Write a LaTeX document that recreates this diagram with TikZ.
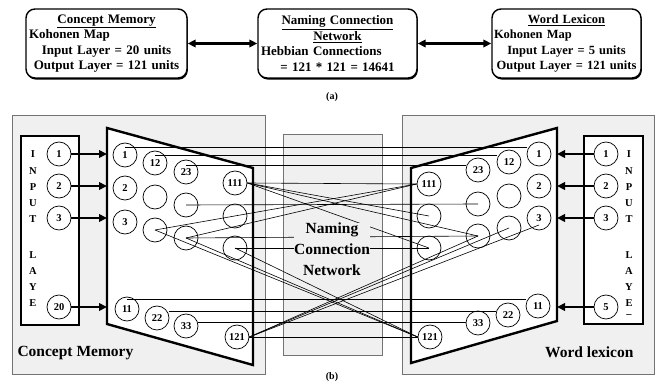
\documentclass[tikz,border=0pt]{standalone}
\usepackage{fontspec}
\setmainfont{Liberation Serif}
\usetikzlibrary{arrows.meta,shadows}

\begin{document}
\begin{tikzpicture}[x=1pt,y=-1pt,
	neuron/.style={circle, draw, line width=0.7pt, minimum size=24pt, inner sep=0pt, font=\fontsize{10.5}{12}\selectfont\bfseries},
	link/.style={line width=0.6pt},
	feed/.style={line width=2.2pt, -{Triangle[length=8pt,width=7.5pt]}},
	duplex/.style={line width=2.2pt, {Triangle[length=8pt,width=7.5pt]}-{Triangle[length=8pt,width=7.5pt]}},
	panel/.style={draw=black!55, fill=black!6, line width=0.6pt},
	mapshape/.style={draw, fill=white, line width=2.4pt, line join=miter},
	inbox/.style={draw, fill=white, line width=2.6pt},
	topbox/.style={draw, fill=white, rounded corners=9pt, line width=1.4pt, minimum height=69pt, align=center, inner sep=1pt, font=\fontsize{13}{15.5}\selectfont\bfseries, drop shadow={shadow xshift=0.8pt, shadow yshift=-1.6pt, fill=black, opacity=1}},
	caption/.style={font=\fontsize{15.5}{21}\selectfont\bfseries},
	letter/.style={font=\fontsize{10.5}{12}\selectfont\bfseries, inner sep=0pt}]

	\useasboundingbox (0,0) rectangle (659,382);

	% (a) block view
	\node[topbox, minimum width=161pt, text width=155pt] (cmbox) at (106.5,43.5)
		{\underline{Concept Memory}\\ \makebox[\hsize][l]{Kohonen Map}\\ Input Layer = 20 units\\ Output Layer = 121 units};
	\node[topbox, minimum width=159pt, text width=153pt] (ncbox) at (337.5,43.5)
		{\underline{Naming Connection}\\ \underline{Network}\\ \makebox[\hsize][l]{Hebbian Connections}\\ = 121 * 121 = 14641};
	\node[topbox, minimum width=149pt, text width=145pt, font=\fontsize{12.5}{15.5}\selectfont\bfseries] (wlbox) at (566.5,43.5)
		{\underline{Word Lexicon}\\ \makebox[\hsize][l]{Kohonen Map}\\ Input Layer = 5 units\\ \makebox[\hsize][c]{Output Layer = 121 units}};

	\draw[duplex] (cmbox.east) -- (ncbox.west);
	\draw[duplex] (ncbox.east) -- (wlbox.west);

	\node[font=\fontsize{10}{12}\selectfont\bfseries] (capa) at (332,97) {(a)};

	% (b) map view
	\draw[panel] (12,115) rectangle (265,374);
	\draw[panel] (402,115) rectangle (654,374);
	\draw[panel] (283,134) rectangle (382,355);

	\coordinate (cmA) at (107,128);
	\coordinate (cmB) at (253,168);
	\coordinate (cmC) at (253,365);
	\coordinate (cmD) at (107,324);
	\coordinate (wlA) at (557,128);
	\coordinate (wlB) at (411,168);
	\coordinate (wlC) at (411,363);
	\coordinate (wlD) at (557,321);

	\draw[mapshape] (cmA) -- (cmB) -- (cmC) -- (cmD) -- cycle;
	\draw[mapshape] (wlA) -- (wlB) -- (wlC) -- (wlD) -- cycle;

	\draw[inbox] (21,136) rectangle (79,325);
	\draw[inbox] (584,136) rectangle (643,324);

	\foreach \ch/\y in {I/154,N/171,P/187,U/203,T/219,L/255,A/271,Y/287,E/303}
		\node[letter] (cl\y) at (33,\y) {\ch};
	\foreach \ch/\y in {I/154,N/171,P/187,U/203,T/219,L/255,A/271,Y/287,E/303,--/316}
		\node[letter] (wl\y) at (629,\y) {\ch};

	% input units
	\node[neuron] (cin1) at (59,154) {1};
	\node[neuron] (cin2) at (59,186) {2};
	\node[neuron] (cin3) at (59,218) {3};
	\node[neuron] (cin20) at (59,307) {20};
	\node[neuron] (win1) at (606,154) {1};
	\node[neuron] (win2) at (606,186) {2};
	\node[neuron] (win3) at (606,218) {3};
	\node[neuron] (win5) at (606,307) {5};

	% output units, concept side
	\node[neuron] (c1) at (125,155) {1};
	\node[neuron] (c12) at (155,163) {12};
	\node[neuron] (c23) at (186,172) {23};
	\node[neuron] (c111) at (235,183) {111};
	\node[neuron] (c2) at (125,188) {2};
	\node[neuron] (ca) at (155,197) {};
	\node[neuron] (cb) at (186,205) {};
	\node[neuron] (cc) at (235,216) {};
	\node[neuron] (c3) at (125,222) {3};
	\node[neuron] (cd) at (155,230) {};
	\node[neuron] (ce) at (186,238) {};
	\node[neuron] (cf) at (235,248) {};
	\node[neuron] (c11) at (127,309) {11};
	\node[neuron] (c22) at (157,318) {22};
	\node[neuron] (c33) at (186,326) {33};
	\node[neuron] (c121) at (237,337) {121};

	% output units, word side
	\node[neuron] (w1) at (539,154) {1};
	\node[neuron] (w12) at (509,162) {12};
	\node[neuron] (w23) at (478,170) {23};
	\node[neuron] (w111) at (429,184) {111};
	\node[neuron] (w2) at (539,186) {2};
	\node[neuron] (wa) at (509,196) {};
	\node[neuron] (wb) at (478,204) {};
	\node[neuron] (wc) at (429,216) {};
	\node[neuron] (w3) at (539,218) {3};
	\node[neuron] (wd) at (509,228) {};
	\node[neuron] (we) at (478,236) {};
	\node[neuron] (wf) at (429,248) {};
	\node[neuron] (w11) at (538,306) {11};
	\node[neuron] (w22) at (508,315) {22};
	\node[neuron] (w33) at (478,323) {33};
	\node[neuron] (w121) at (430,337) {121};

	% hebbian links
	\draw[link] ([yshift=8pt]c1.center) -- ([yshift=8pt]c1.center -| w1.west);
	\draw[link] ([yshift=8pt]c12.center) -- ([yshift=8pt]c12.center -| w12.west);
	\draw[link] ([yshift=7pt]c23.center) -- ([yshift=7pt]c23.center -| w23.west);
	\draw[link] (c111.east) -- (w111.west);
	\draw[link] (cb.center) -- (wb.center);
	\draw[link] (ce.center) -- (we.center);
	\draw[link] (cf.center) -- (wf.center);
	\draw[link] ([yshift=10pt]c11.center) -- ([yshift=10pt]c11.center -| w11.west);
	\draw[link] ([yshift=7pt]c22.east) -- ([yshift=7pt]c22.east -| w22.west);
	\draw[link] ([yshift=4pt]c33.east) -- ([yshift=4pt]c33.east -| w33.west);
	\draw[link] (c121.east) -- (w121.west);

	\draw[link] (c111.east) -- (wc.center);
	\draw[link] (c111.east) -- (we.center);
	\draw[link] (c111.east) -- (wf.center);
	\draw[link] (cd.center) -- (w111.west);
	\draw[link] (ce.center) -- (w111.west);

	\draw[link] (cd.center) -- (w121.west);
	\draw[link] (ce.center) -- (w121.west);
	\draw[link] (cf.center) -- (w121.west);
	\draw[link] (c121.east) -- (we.center);
	\draw[link] (c121.east) -- (wd.center);
	\draw[link] (c121.east) -- ([yshift=-7pt]w3.center);

	% inputs into the maps
	\draw[feed] (cin1) -- (cin1 -| cmA);
	\draw[feed] (cin2) -- (cin2 -| cmA);
	\draw[feed] (cin3) -- (cin3 -| cmA);
	\draw[feed] (cin20) -- (cin20 -| cmA);
	\draw[feed] (win1) -- (win1 -| wlA);
	\draw[feed] (win2) -- (win2 -| wlA);
	\draw[feed] (win3) -- (win3 -| wlA);
	\draw[feed] (win5) -- (win5 -| wlA);

	\node[caption, align=center, fill=black!6, inner sep=0pt] (ncl) at (332,249) {Naming\\Connection\\Network};
	\node[caption, anchor=west] (cml) at (14,353) {Concept Memory};
	\node[caption, anchor=east] (wll) at (637,352) {Word lexicon};
	\node[font=\fontsize{10}{12}\selectfont\bfseries] (capb) at (332,377) {(b)};

\end{tikzpicture}
\end{document}
